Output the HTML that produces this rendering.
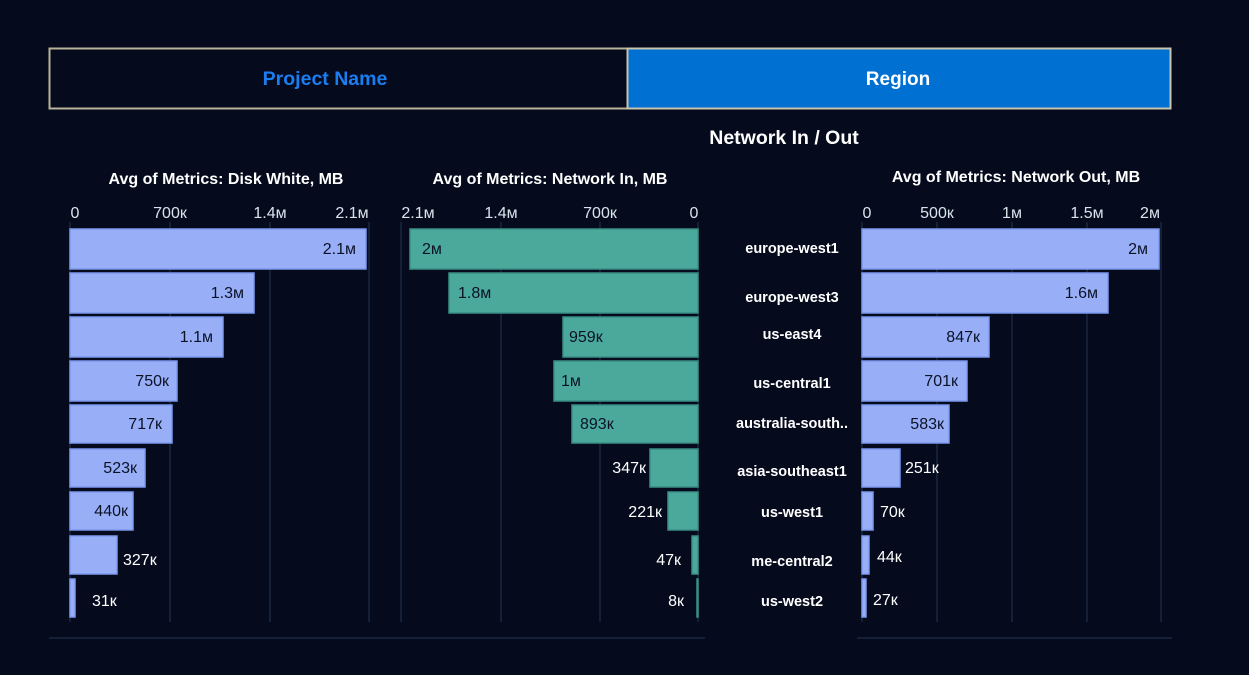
<!DOCTYPE html>
<html><head><meta charset="utf-8"><style>
html,body{margin:0;padding:0;background:#050a1c;}
svg{display:block;font-family:"Liberation Sans",sans-serif;}
</style></head><body>
<svg width="1249" height="675" xmlns="http://www.w3.org/2000/svg">
<rect width="1249" height="675" fill="#050a1c"/>
<rect x="49.5" y="48.5" width="578" height="60" fill="#050a1c" stroke="#b8b39a" stroke-width="2"/>
<rect x="627.5" y="48.5" width="543" height="60" fill="#0070d2" stroke="#c8c4ae" stroke-width="2"/>
<text x="325" y="85" fill="#1a7df0" font-size="19.5" font-weight="bold" text-anchor="middle">Project Name</text>
<text x="898" y="85" fill="#ffffff" font-size="19" font-weight="bold" text-anchor="middle">Region</text>
<text x="784" y="144" fill="#fff" font-size="19.5" font-weight="bold" text-anchor="middle">Network In / Out</text>
<g fill="#fff" font-size="16" font-weight="bold" text-anchor="middle">
<text x="226" y="184">Avg of Metrics: Disk White, MB</text>
<text x="550" y="184">Avg of Metrics: Network In, MB</text>
<text x="1016" y="182">Avg of Metrics: Network Out, MB</text>
</g>
<g fill="#d8e4ec" font-size="16" text-anchor="middle">
<text x="75" y="218">0</text><text x="170" y="218">700к</text><text x="270" y="218">1.4м</text><text x="352" y="218">2.1м</text>
<text x="418" y="218">2.1м</text><text x="501" y="218">1.4м</text><text x="600" y="218">700к</text><text x="694" y="218">0</text>
<text x="867" y="218">0</text><text x="937" y="218">500к</text><text x="1012" y="218">1м</text><text x="1087" y="218">1.5м</text><text x="1150" y="218">2м</text>
</g>
<g stroke="#1a2740" stroke-width="1.5">
<line x1="70" y1="222" x2="70" y2="622"/><line x1="170" y1="222" x2="170" y2="622"/><line x1="270" y1="222" x2="270" y2="622"/><line x1="369" y1="222" x2="369" y2="622"/>
<line x1="401" y1="222" x2="401" y2="622"/><line x1="501" y1="222" x2="501" y2="622"/><line x1="600" y1="222" x2="600" y2="622"/><line x1="698" y1="222" x2="698" y2="622"/>
<line x1="862" y1="222" x2="862" y2="622"/><line x1="937" y1="222" x2="937" y2="622"/><line x1="1012" y1="222" x2="1012" y2="622"/><line x1="1087" y1="222" x2="1087" y2="622"/><line x1="1161" y1="222" x2="1161" y2="622"/>
<line x1="49" y1="638" x2="705" y2="638"/><line x1="857" y1="638" x2="1172" y2="638"/>
</g>
<g fill="#98aff8" stroke="#7d98ee" stroke-width="1.5">
<rect x="70" y="229" width="296" height="40"/><rect x="70" y="273" width="184" height="40"/><rect x="70" y="317" width="153" height="40"/><rect x="70" y="361" width="107" height="40"/><rect x="70" y="405" width="102" height="38"/><rect x="70" y="449" width="75" height="38"/><rect x="70" y="492" width="63" height="38"/><rect x="70" y="536" width="47" height="38"/><rect x="70" y="579" width="5" height="38"/>
<rect x="862" y="229" width="297" height="40"/><rect x="862" y="273" width="246" height="40"/><rect x="862" y="317" width="127" height="40"/><rect x="862" y="361" width="105" height="40"/><rect x="862" y="405" width="87" height="38"/><rect x="862" y="449" width="38" height="38"/><rect x="862" y="492" width="11" height="38"/><rect x="862" y="536" width="7" height="38"/><rect x="862" y="579" width="4" height="38"/>
</g>
<g fill="#4aa99b" stroke="#3a8f84" stroke-width="1.5">
<rect x="410" y="229" width="288" height="40"/><rect x="449" y="273" width="249" height="40"/><rect x="563" y="317" width="135" height="40"/><rect x="554" y="361" width="144" height="40"/><rect x="572" y="405" width="126" height="38"/><rect x="650" y="449" width="48" height="38"/><rect x="668" y="492" width="30" height="38"/><rect x="692" y="536" width="6" height="38"/><rect x="697" y="579" width="1" height="38"/>
</g>
<g font-size="16" text-anchor="end" fill="#0b1226">
<text x="356" y="254">2.1м</text><text x="244" y="298">1.3м</text><text x="213" y="342">1.1м</text><text x="169" y="386">750к</text><text x="162" y="429">717к</text><text x="137" y="473">523к</text><text x="128" y="516">440к</text>
<text x="1148" y="254">2м</text><text x="1098" y="298">1.6м</text><text x="980" y="342">847к</text><text x="958" y="386">701к</text><text x="944" y="429">583к</text>
</g>
<g font-size="16" fill="#0b1226">
<text x="422" y="254">2м</text><text x="458" y="298">1.8м</text><text x="569" y="342">959к</text><text x="561" y="386">1м</text><text x="580" y="429">893к</text>
</g>
<g font-size="16" fill="#fff" text-anchor="end">
<text x="646" y="473">347к</text><text x="662" y="517">221к</text><text x="681" y="565">47к</text><text x="684" y="606">8к</text>
</g>
<g font-size="16" fill="#fff">
<text x="123" y="565">327к</text><text x="92" y="606">31к</text>
<text x="905" y="473">251к</text><text x="880" y="517">70к</text><text x="877" y="562">44к</text><text x="873" y="605">27к</text>
</g>
<g font-size="14.5" fill="#fff" font-weight="bold" text-anchor="middle">
<text x="792" y="253">europe-west1</text><text x="792" y="302">europe-west3</text><text x="792" y="339">us-east4</text><text x="792" y="388">us-central1</text><text x="792" y="428">australia-south..</text><text x="792" y="476">asia-southeast1</text><text x="792" y="517">us-west1</text><text x="792" y="566">me-central2</text><text x="792" y="606">us-west2</text>
</g>
</svg>
</body></html>
